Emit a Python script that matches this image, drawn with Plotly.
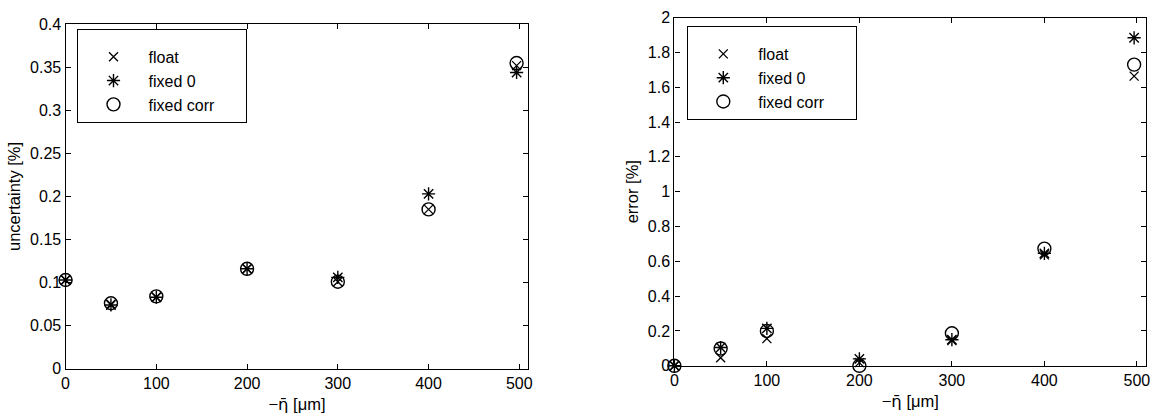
import plotly.graph_objects as go

eta = [0, 50, 100, 200, 300, 400, 497]
unc_float = [0.103, 0.075, 0.083, 0.116, 0.101, 0.185, 0.352]
unc_fixed0 = [0.103, 0.074, 0.083, 0.116, 0.106, 0.203, 0.344]
unc_corr = [0.103, 0.076, 0.084, 0.116, 0.101, 0.185, 0.355]
err_float = [0.0, 0.046, 0.156, 0.018, 0.145, 0.637, 1.664]
err_fixed0 = [0.0, 0.105, 0.215, 0.04, 0.15, 0.646, 1.884]
err_corr = [0.0, 0.099, 0.2, 0.0, 0.187, 0.673, 1.73]
names = ["float", "fixed 0", "fixed corr"]

FONT = "Liberation Sans, Arial, sans-serif"
XTITLE = '−<span style="font-family:DejaVu Sans">η̄</span> [μm]'
PAD = "\u00a0" * 6
styles = [
    dict(symbol="x-thin-open", size=9, line=dict(width=1.3, color="black")),
    dict(symbol="asterisk-open", size=11, line=dict(width=1.4, color="black")),
    dict(symbol="circle-open", size=13, line=dict(width=1.4, color="black")),
]

fig = go.Figure()
for i, (ys, nm, st) in enumerate(zip([unc_float, unc_fixed0, unc_corr], names, styles)):
    fig.add_trace(go.Scatter(x=eta, y=ys, mode="markers", name=nm + (PAD if i == 2 else ""),
                             marker=dict(color="black", **st),
                             xaxis="x", yaxis="y", legend="legend", cliponaxis=False))
for i, (ys, nm, st) in enumerate(zip([err_float, err_fixed0, err_corr], names, styles)):
    fig.add_trace(go.Scatter(x=eta, y=ys, mode="markers", name=nm + (PAD if i == 2 else ""),
                             marker=dict(color="black", **st),
                             xaxis="x2", yaxis="y2", legend="legend2", cliponaxis=False))

ax = dict(showline=True, linecolor="black", linewidth=1.3, mirror="ticks", ticks="inside", ticklen=5,
          tickcolor="black", showgrid=False, zeroline=False, tickfont=dict(size=16, color="black", family=FONT),
          title_font=dict(size=16.5, color="black", family=FONT))

leg = dict(bordercolor="black", borderwidth=1, bgcolor="white", font=dict(size=16, color="black", family=FONT),
           xanchor="left", yanchor="top", itemwidth=60, tracegroupgap=0, itemclick=False,
           title=dict(text="\u00a0", font=dict(size=7.5, family=FONT)))

fig.update_layout(
    width=1171, height=417, margin=dict(l=0, r=0, t=0, b=0),
    paper_bgcolor="white", plot_bgcolor="white",
    xaxis=dict(ax, domain=[62/1171, 528/1171], range=[0, 510], tick0=0, dtick=100,
               title=dict(text=XTITLE, standoff=7), anchor="y"),
    yaxis=dict(ax, domain=[1-376/417, 1-17/417], range=[0, 0.4], dtick=0.05,
               title=dict(text="uncertainty [%]", standoff=5), anchor="x"),
    xaxis2=dict(ax, domain=[675/1171, 1150/1171], range=[0, 510], tick0=0, dtick=100,
                title=dict(text=XTITLE, standoff=7), anchor="y2"),
    yaxis2=dict(ax, domain=[1-373/417, 1-10/417], range=[0, 2], dtick=0.2,
                title=dict(text="error [%]", standoff=5), anchor="x2"),
    legend=dict(leg, x=74/1171, y=1-22/417),
    legend2=dict(leg, x=688/1171, y=1-19/417),
    showlegend=True,
)

fig.write_html("out.html")
